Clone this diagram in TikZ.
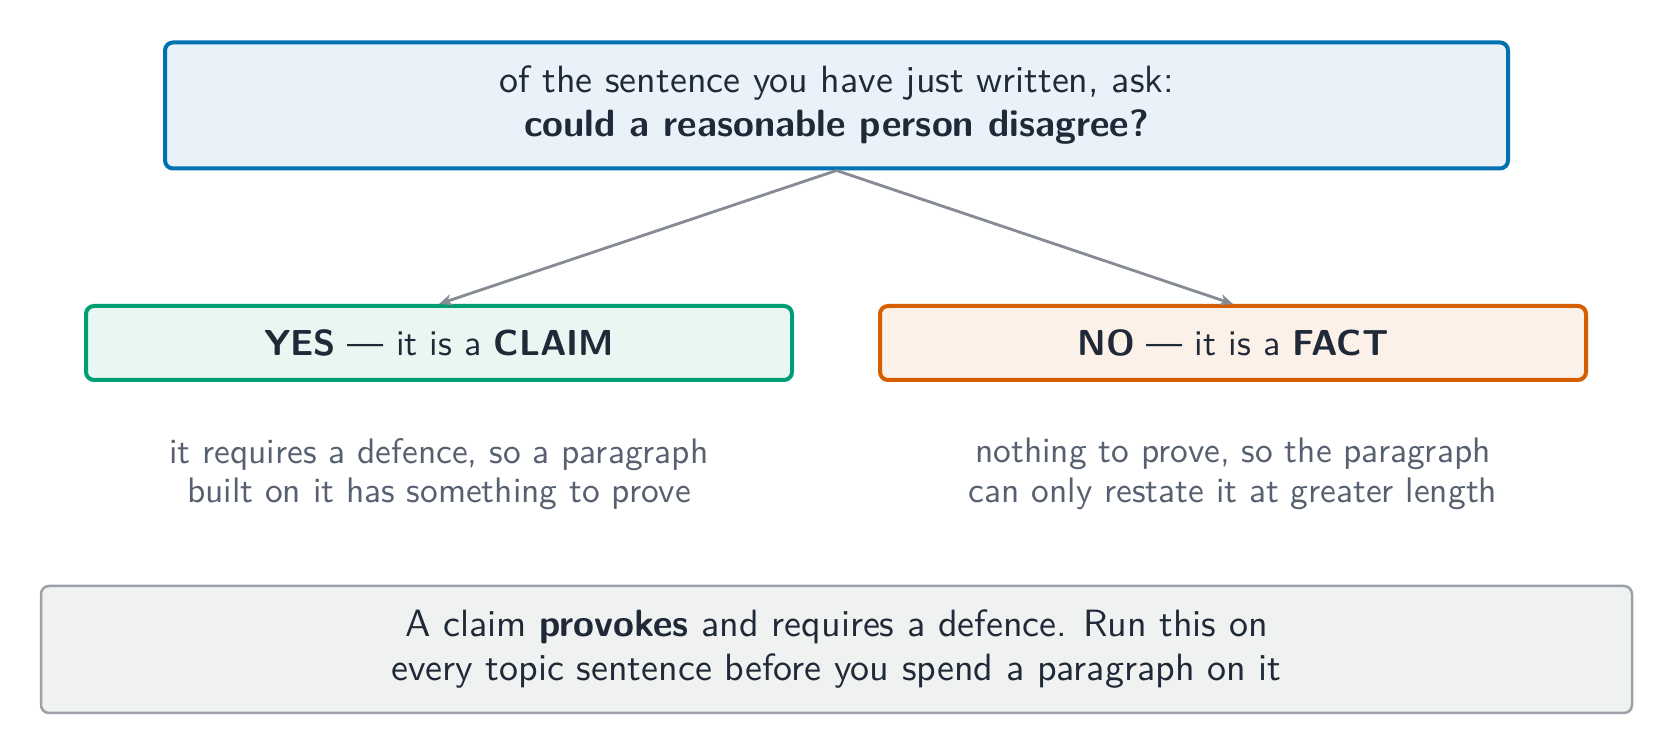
\documentclass[tikz,border=0pt]{standalone}
\usepackage{fontspec}
\setsansfont{lmsans10-regular.otf}[BoldFont=lmsans10-bold.otf]
\usetikzlibrary{arrows.meta}
\definecolor{txt}{HTML}{1F2937}
\definecolor{subtxt}{HTML}{566070}
\definecolor{bluec}{HTML}{0072B2}
\definecolor{bluef}{HTML}{EAF2F9}
\definecolor{greenc}{HTML}{009E73}
\definecolor{greenf}{HTML}{EAF6F2}
\definecolor{orangec}{HTML}{D55E00}
\definecolor{orangef}{HTML}{FBF1E8}
\definecolor{grayc}{HTML}{9CA0A8}
\definecolor{grayf}{HTML}{F0F2F2}
\definecolor{arrowc}{HTML}{868B94}
\begin{document}
\begin{tikzpicture}[x=0.3pt,y=-0.3pt,
  box/.style={rectangle, rounded corners=2.4pt, line width=1.2pt, align=center,
    text=txt, inner sep=0pt},
  bigtext/.style={font=\sffamily\fontsize{11.4}{13.2}\selectfont},
  labeltext/.style={font=\sffamily\fontsize{10.84}{13}\selectfont},
  note/.style={align=center, text=subtxt, font=\sffamily\fontsize{10.63}{11.8}\selectfont, inner sep=0pt},
  conn/.style={draw=arrowc, line width=0.85pt, -{Stealth[length=4pt,width=3.4pt]}}
]
\useasboundingbox (0,0) rectangle (1673,756);
\node[box, bigtext, draw=bluec, fill=bluef, minimum width=402.9pt, minimum height=37.8pt] (q) at (836.5,105.5)
  {of the sentence you have just written, ask:\\\textbf{could a reasonable person disagree?}};
\node[box, labeltext, draw=greenc, fill=greenf, minimum width=211.8pt, minimum height=22.2pt] (yes) at (439,343)
  {\textbf{YES} --- it is a \textbf{CLAIM}};
\node[box, labeltext, draw=orangec, fill=orangef, minimum width=211.8pt, minimum height=22.2pt] (no) at (1233,343)
  {\textbf{NO} --- it is a \textbf{FACT}};
\node[note] (yesn) at (439,474) {it requires a defence, so a paragraph\\built on it has something to prove};
\node[note] (non) at (1233,474) {nothing to prove, so the paragraph\\can only restate it at greater length};
\node[box, bigtext, draw=grayc, fill=grayf, line width=0.75pt, minimum width=477.3pt, minimum height=38.1pt] (sum) at (836.5,649.5)
  {A claim \textbf{provokes} and requires a defence. Run this on\\every topic sentence before you spend a paragraph on it};
\draw[conn] (q.south) -- (yes.north);
\draw[conn] (q.south) -- (no.north);
\end{tikzpicture}
\end{document}
